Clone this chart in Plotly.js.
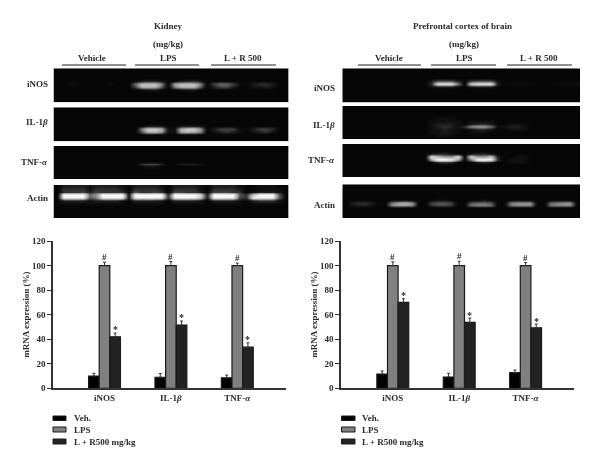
<!DOCTYPE html>
<html>
<head>
<meta charset="utf-8">
<script src="https://cdn.plot.ly/plotly-3.0.1.min.js"></script>
<style>html,body{margin:0;padding:0;background:#fff}#chart{filter:blur(0.35px)}</style>
</head>
<body>
<div id="chart" style="width:600px;height:468px"></div>
<script>
// ---- Bar chart data ----
const categories = ['iNOS', 'IL-1<i>β</i>', 'TNF-<i>α</i>'];
const seriesNames = ['Veh.', 'LPS', 'L + R500 mg/kg'];

const kidneyVeh = [10, 9, 8.5];
const kidneyLps = [100, 100, 100];
const kidneyLr = [42, 51.5, 33.5];
const kidneyVehErr = [2.2, 3, 2.3];
const kidneyLpsErr = [2.7, 3.3, 2];
const kidneyLrErr = [3, 3.3, 3.5];

const brainVeh = [11.6, 9.2, 12.7];
const brainLps = [100, 100, 100];
const brainLr = [70, 53.7, 49.3];
const brainVehErr = [2.5, 3, 2.2];
const brainLpsErr = [3, 3.5, 2.4];
const brainLrErr = [3, 3.5, 3];

const lpsMark = '#';
const lrMark = '*';

// ---- Text ----
const kidneyTitle = 'Kidney';
const brainTitle = 'Prefrontal cortex of brain';
const unitLabel = '(mg/kg)';
const groupLabels = ['Vehicle', 'LPS', 'L + R 500'];
const gelLabels = ['iNOS', 'IL-1<i>β</i>', 'TNF-<i>α</i>', 'Actin'];
const yTitle = 'mRNA expression (%)';
const yTicks = [0, 20, 40, 60, 80, 100, 120];

// ---- Gel band intensities (hex digit 0-f, 6 lanes of 6 columns, 12 rows) ----
const Z = '000000 000000 000000 000000 000000 000000';
const gelKidneyInos = [Z, Z, Z, Z,
  '000000 000000 012210 012210 000000 000000',
  '001100 001000 6bbb70 9bbb70 466410 233200',
  '000000 000000 4aaa50 7aaa50 244200 112100',
  '000000 000000 001100 001100 000000 000000',
  Z, Z, Z, Z];
const gelKidneyIl = [Z, Z, Z, Z, Z, Z,
  '000000 000000 001110 011110 000000 000000',
  '000000 000000 07cca1 1acc80 244410 244300',
  '000000 000000 05aa81 19a970 123210 123100',
  '000000 000000 000000 000000 000000 000000',
  Z, Z];
const gelKidneyTnf = [Z, Z, Z, Z, Z,
  '000000 000000 000000 000000 000000 000000',
  '000000 000000 034420 022210 000000 000000',
  '000000 000000 001100 000000 000000 000000',
  Z, Z, Z, Z];
const gelKidneyActin = [
  '022221 222210 222210 222210 222210 011100',
  '033331 333320 333320 333310 333320 011110',
  '033342 433330 533430 443320 444330 122210',
  '0ffff6 8ffff1 fffff3 ffffc2 ffff53 bfff50',
  '0eeee5 7eeee1 eeeee3 eeeeb2 eeee43 eeee50',
  '022221 222210 222210 222210 222210 233310',
  '011111 111110 111110 111110 111110 111110',
  Z, Z, Z, Z, Z];
const gelBrainInos = [Z, Z, Z, Z,
  '000000 000000 024442 034441 000000 000000',
  '000000 000000 03eee7 0ceee2 011110 001111',
  '000000 000000 011110 011110 000000 000000',
  Z, Z, Z, Z, Z];
const gelBrainIl = [Z, Z, Z, Z,
  '000000 000000 001110 000000 000000 000000',
  '000000 000000 011111 011110 000000 000000',
  '000000 000000 012221 023320 011100 000000',
  '000000 000000 012321 378861 122100 000000',
  '000000 000000 011211 012210 011100 000000',
  '000000 000000 011211 011100 000000 000000',
  '000000 000000 001110 000000 000000 000000',
  Z];
const gelBrainTnf = [Z, Z, Z,
  '000000 000000 012210 012210 000000 000000',
  '000000 000000 0da88d 0c88b2 001100 000000',
  '000000 000000 09ffe9 07ffe3 011100 000000',
  '000000 000000 003430 002320 011100 000000',
  Z, Z, Z, Z, Z];
const gelBrainActin = [Z, Z, Z, Z, Z,
  '000000 000000 001100 000100 000000 000000',
  '023320 079a80 045540 056650 078880 067880',
  '012210 078870 034430 067760 067770 067770',
  '000000 000000 000000 000000 000000 000000',
  Z, Z, Z];

// ---- Layout helpers (page pixels) ----
const W = 600, H = 468;
const font = 'Liberation Serif, Times New Roman, serif';
const ink = '#2a2a2a';
const xd = (a, b) => [a / W, b / W];
const yd = (t, b) => [1 - b / H, 1 - t / H];
const px = v => v / W;
const py = v => 1 - v / H;

const panels = [
  {
    title: kidneyTitle, titleX: 168, groupsX: [92, 168, 243],
    rules: [[62, 126], [135, 199], [211, 276]],
    axisX: [53, 286], center: 104.5, labelX: 49,
    gelX: [53.5, 288.7],
    gelY: [[68.3, 102.3], [107.3, 141.3], [146, 179.3], [185, 218]],
    labelY: [84, 122, 162, 198],
    gels: [gelKidneyInos, gelKidneyIl, gelKidneyTnf, gelKidneyActin],
    series: [kidneyVeh, kidneyLps, kidneyLr],
    errs: [kidneyVehErr, kidneyLpsErr, kidneyLrErr],
    swatchX: [53, 66], legendX: 72.5, yTitleStandoff: 1
  },
  {
    title: brainTitle, titleX: 463, groupsX: [389, 464, 539],
    rules: [[358, 421], [431, 496], [507, 572]],
    axisX: [341, 574], center: 392.8, labelX: 336,
    gelX: [342.3, 580],
    gelY: [[68.3, 102.7], [106, 139.3], [144, 177], [184.3, 218]],
    labelY: [88, 125, 160, 205],
    gels: [gelBrainInos, gelBrainIl, gelBrainTnf, gelBrainActin],
    series: [brainVeh, brainLps, brainLr],
    errs: [brainVehErr, brainLpsErr, brainLrErr],
    swatchX: [341.5, 355], legendX: 361, yTitleStandoff: 1
  }
];

const fills = ['#000000', '#808080', '#222222'];
const swatchY = [[416, 420.5], [427, 432], [439, 444]];
const legendY = [418, 429.5, 441.5];
const groupSpacing = 66.4;
const barWidth = 0.16;
const textWeight = 700;
const textSize = 9;

const traces = [];
const annotations = [];
const shapes = [];
const layout = {
  width: W, height: H,
  margin: {l: 0, r: 0, t: 0, b: 0},
  paper_bgcolor: '#ffffff', plot_bgcolor: '#ffffff',
  showlegend: false,
  barmode: 'group', bargap: 1 - 3 * barWidth, bargroupgap: 0,
  font: {family: font, color: ink, size: textSize}
};

function note(text, x, y, anchor) {
  annotations.push({
    text, xref: 'paper', yref: 'paper', x: px(x), y: py(y),
    xanchor: anchor, yanchor: 'middle', showarrow: false, borderpad: 0,
    font: {family: font, size: textSize, color: ink, weight: textWeight}
  });
}

let axisIndex = 3;
panels.forEach((p, pi) => {
  const sx = pi === 0 ? '' : '2';
  const xName = 'x' + sx, yName = 'y' + sx;
  layout['xaxis' + sx] = {
    domain: xd(p.axisX[0], p.axisX[1]),
    anchor: yName,
    type: 'category',
    categoryorder: 'array', categoryarray: categories,
    range: [(p.axisX[0] - p.center) / groupSpacing, (p.axisX[1] - p.center) / groupSpacing],
    showgrid: false, zeroline: false, showline: true,
    linecolor: '#333333', linewidth: 1.5, ticks: '',
    tickangle: 0,
    tickfont: {family: font, size: textSize, color: ink, weight: textWeight},
    fixedrange: true
  };
  layout['yaxis' + sx] = {
    domain: yd(241, 388.3),
    anchor: xName,
    range: [0, 120],
    tickmode: 'array', tickvals: yTicks, ticktext: yTicks.map(String),
    ticks: 'outside', ticklen: 4, tickwidth: 1.2, tickcolor: '#333333',
    showgrid: false, zeroline: false, showline: true,
    linecolor: '#333333', linewidth: 1.5,
    tickfont: {family: font, size: textSize, color: ink, weight: textWeight},
    title: {text: yTitle, standoff: p.yTitleStandoff, font: {family: font, size: textSize, color: ink, weight: textWeight}},
    fixedrange: true
  };

  p.series.forEach((vals, si) => {
    traces.push({
      type: 'bar', name: seriesNames[si], x: categories, y: vals,
      xaxis: xName, yaxis: yName,
      marker: {color: fills[si], line: {color: '#1a1a1a', width: 1.2}},
      error_y: {
        type: 'data', symmetric: false, array: p.errs[si],
        arrayminus: vals.map(() => 0), color: '#333333', thickness: 1, width: 1.5
      },
      hoverinfo: 'x+y'
    });
  });

  // significance marks
  categories.forEach((c, i) => {
    annotations.push({
      text: lpsMark, xref: xName, yref: yName,
      x: i, y: p.series[1][i] + p.errs[1][i] + 4,
      yanchor: 'middle', xanchor: 'center', showarrow: false, borderpad: 0,
      font: {family: font, size: 9, color: ink, weight: 700}
    });
    annotations.push({
      text: lrMark, xref: xName, yref: yName,
      x: i + barWidth, y: p.series[2][i] + p.errs[2][i] + 2.5,
      yanchor: 'middle', xanchor: 'center', showarrow: false, borderpad: 0,
      font: {family: font, size: 10, color: ink, weight: 700}
    });
  });

  // gels
  p.gels.forEach((rows, gi) => {
    const ax = axisIndex++;
    const z = rows.map(r => r.replace(/ /g, '').split('').map(ch => parseInt(ch, 16)));
    traces.push({
      type: 'heatmap', z, xaxis: 'x' + ax, yaxis: 'y' + ax,
      zmin: 0, zmax: 15, zsmooth: 'best', showscale: false, hoverinfo: 'skip',
      colorscale: [[0, '#060606'], [1 / 15, '#101010'], [2 / 15, '#1e1e1e'], [4 / 15, '#444444'], [8 / 15, '#999999'], [1, '#ffffff']]
    });
    layout['xaxis' + ax] = {domain: xd(p.gelX[0], p.gelX[1]), anchor: 'y' + ax, range: [-0.5, 35.5], visible: false, fixedrange: true};
    layout['yaxis' + ax] = {domain: yd(p.gelY[gi][0], p.gelY[gi][1]), anchor: 'x' + ax, range: [rows.length - 0.5, -0.5], visible: false, fixedrange: true};
    note(gelLabels[gi], p.labelX, p.labelY[gi], 'right');
  });

  // headers
  note(p.title, p.titleX, 25.5, 'center');
  note(unitLabel, pi === 0 ? 168 : 464, 43.5, 'center');
  groupLabels.forEach((g, i) => {
    note(g, p.groupsX[i], 58, 'center');
    shapes.push({
      type: 'line', xref: 'paper', yref: 'paper',
      x0: px(p.rules[i][0]), x1: px(p.rules[i][1]), y0: py(65), y1: py(65),
      line: {color: '#222222', width: 1}
    });
  });

  // legend
  seriesNames.forEach((n, i) => {
    shapes.push({
      type: 'rect', xref: 'paper', yref: 'paper',
      x0: px(p.swatchX[0]), x1: px(p.swatchX[1]),
      y0: py(swatchY[i][1]), y1: py(swatchY[i][0]),
      fillcolor: fills[i], line: {color: '#1a1a1a', width: 1}
    });
    note(n, p.legendX, legendY[i], 'left');
  });
});

layout.annotations = annotations;
layout.shapes = shapes;

Plotly.newPlot('chart', traces, layout, {displayModeBar: false, responsive: false});
</script>
</body>
</html>
